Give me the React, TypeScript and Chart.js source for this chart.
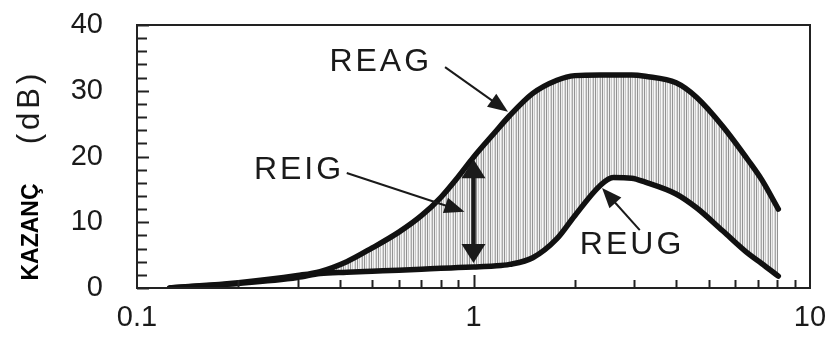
import React, { useEffect, useRef } from 'react';
import { Chart, registerables } from 'chart.js';

Chart.register(...registerables);

// Frequency (log axis) shared by both curves
const freq = [0.125, 0.2, 0.3, 0.35, 0.42, 0.5, 0.6, 0.7, 0.8, 0.9, 1, 1.15, 1.28, 1.5, 1.77, 2.0, 2.38, 2.6, 2.95, 3.24, 4.0, 4.6, 5.5, 6.6, 7.2, 8.05];
// REAG (upper curve), dB
const reag = [0, 0.8, 1.9, 2.5, 4.0, 6.1, 8.5, 11.0, 13.8, 16.9, 19.9, 23.5, 26.2, 29.6, 31.6, 32.3, 32.4, 32.4, 32.4, 32.2, 31.2, 29.0, 24.6, 19.2, 16.4, 12.0];
// REUG (lower curve), dB
const reug = [0, 0.7, 1.6, 2.2, 2.4, 2.55, 2.7, 2.85, 3.0, 3.1, 3.2, 3.35, 3.6, 4.6, 7.5, 11.0, 15.6, 16.8, 16.7, 16.1, 14.3, 12.2, 8.7, 5.1, 3.7, 1.8];

const xLabelValues = [0.1, 1, 10];
const xMinorTicks = [0.2, 0.3, 0.4, 0.5, 0.6, 0.7, 0.8, 0.9, 1, 2, 3, 4, 5, 6, 7, 8, 9];
const yTickStep = 2;
const yLabelStep = 10;

// Annotations (data space)
const textLabels = [
  { text: 'REAG', x: 0.53, y: 34.3 },
  { text: 'REIG', x: 0.303, y: 17.9 },
  { text: 'REUG', x: 2.96, y: 6.5 },
];
const arrows = [
  { x0: 0.823, y0: 33.6, x1: 1.266, y1: 26.8 },
  { x0: 0.42, y0: 17.5, x1: 0.94, y1: 11.6 },
  { x0: 3.12, y0: 8.8, x1: 2.41, y1: 15.2 },
];
const gapAt = 1; // double arrow frequency

const FONT = '"Liberation Sans", Arial, Helvetica, sans-serif';
const INK = '#1a1a1a';
const AREA = { left: 137, top: 25, right: 810, bottom: 288 };

function makeHatch(): CanvasPattern | string {
  const c = document.createElement('canvas');
  const cols = ['#929292', '#ededed', '#c8c8c8', '#f7f7f7', '#d6d6d6', '#a9a9a9', '#f1f1f1'];
  c.width = cols.length;
  c.height = 4;
  const g = c.getContext('2d');
  if (!g) return '#cccccc';
  cols.forEach((col, i) => {
    g.fillStyle = col;
    g.fillRect(i, 0, 1, 4);
  });
  return g.createPattern(c, 'repeat') || '#cccccc';
}

function drawArrowHead(ctx: CanvasRenderingContext2D, x0: number, y0: number, x1: number, y1: number, len: number, half: number) {
  const a = Math.atan2(y1 - y0, x1 - x0);
  const bx = x1 - len * Math.cos(a);
  const by = y1 - len * Math.sin(a);
  ctx.beginPath();
  ctx.moveTo(x1, y1);
  ctx.lineTo(bx + half * Math.sin(a), by - half * Math.cos(a));
  ctx.lineTo(bx - half * Math.sin(a), by + half * Math.cos(a));
  ctx.closePath();
  ctx.fill();
}

const framePlugin = {
  id: 'frameAndTicks',
  afterDraw(chart: any) {
    const { ctx, chartArea: a, scales } = chart;
    const xs = scales.x;
    const ys = scales.y;
    ctx.save();
    ctx.strokeStyle = '#222';
    ctx.lineWidth = 2;
    ctx.strokeRect(a.left, a.top, a.right - a.left, a.bottom - a.top);
    for (let v = 0; v <= 40; v += yTickStep) {
      const py = Math.round(ys.getPixelForValue(v)) + 0.5;
      ctx.beginPath();
      ctx.moveTo(a.left, py);
      ctx.lineTo(a.left + (v % yLabelStep === 0 ? 12 : 10), py);
      ctx.stroke();
    }
    for (const v of xMinorTicks) {
      const px = Math.round(xs.getPixelForValue(v)) + 0.5;
      ctx.beginPath();
      ctx.moveTo(px, a.bottom);
      ctx.lineTo(px, a.bottom - (v === 1 ? 13 : 8));
      ctx.stroke();
    }
    ctx.restore();
  },
};

const annotationPlugin = {
  id: 'annotations',
  afterDatasetsDraw(chart: any) {
    const { ctx, scales } = chart;
    const xs = scales.x;
    const ys = scales.y;
    ctx.save();
    ctx.fillStyle = INK;
    ctx.strokeStyle = INK;
    ctx.font = `32px ${FONT}`;
    (ctx as any).letterSpacing = '3px';
    ctx.textAlign = 'center';
    ctx.textBaseline = 'middle';
    for (const l of textLabels) {
      ctx.fillText(l.text, xs.getPixelForValue(l.x), ys.getPixelForValue(l.y));
    }
    (ctx as any).letterSpacing = '0px';
    ctx.lineWidth = 2;
    for (const ar of arrows) {
      const x0 = xs.getPixelForValue(ar.x0);
      const y0 = ys.getPixelForValue(ar.y0);
      const x1 = xs.getPixelForValue(ar.x1);
      const y1 = ys.getPixelForValue(ar.y1);
      const ang = Math.atan2(y1 - y0, x1 - x0);
      ctx.beginPath();
      ctx.moveTo(x0, y0);
      ctx.lineTo(x1 - 12 * Math.cos(ang), y1 - 12 * Math.sin(ang));
      ctx.stroke();
      drawArrowHead(ctx, x0, y0, x1, y1, 20, 8);
    }
    const i = freq.indexOf(gapAt);
    const px = xs.getPixelForValue(gapAt);
    const yTop = ys.getPixelForValue(reag[i]) + 2;
    const yBot = ys.getPixelForValue(reug[i]) - 4;
    ctx.lineWidth = 4.5;
    ctx.beginPath();
    ctx.moveTo(px, yTop + 15);
    ctx.lineTo(px, yBot - 15);
    ctx.stroke();
    drawArrowHead(ctx, px, yBot, px, yTop, 19, 12);
    drawArrowHead(ctx, px, yTop, px, yBot, 19, 12);

    ctx.translate(30, 107);
    ctx.rotate(-Math.PI / 2);
    ctx.font = `31px ${FONT}`;
    (ctx as any).letterSpacing = '4px';
    ctx.fillText('(dB)', 0, 0);
    ctx.restore();

    ctx.save();
    ctx.fillStyle = '#000';
    ctx.translate(32, 232);
    ctx.rotate(-Math.PI / 2);
    ctx.font = `bold 23px ${FONT}`;
    ctx.textAlign = 'center';
    ctx.textBaseline = 'middle';
    ctx.fillText('KAZANÇ', 0, 0);
    ctx.restore();
  },
};

export default function App() {
  const ref = useRef<HTMLCanvasElement | null>(null);

  useEffect(() => {
    if (!ref.current) return;
    const hatch = makeHatch();
    const pad = { top: AREA.top, right: 830 - AREA.right, left: 0, bottom: 0 };
    const chart = new Chart(ref.current, {
      type: 'line',
      data: {
        datasets: [
          {
            label: 'REAG',
            data: freq.map((f, k) => ({ x: f, y: reag[k] })),
            borderColor: '#111',
            borderWidth: 5.5,
            borderCapStyle: 'round',
            borderJoinStyle: 'round',
            pointRadius: 0,
            cubicInterpolationMode: 'monotone',
            fill: { target: 1 },
            backgroundColor: hatch as any,
          },
          {
            label: 'REUG',
            data: freq.map((f, k) => ({ x: f, y: reug[k] })),
            borderColor: '#111',
            borderWidth: 5.5,
            borderCapStyle: 'round',
            borderJoinStyle: 'round',
            pointRadius: 0,
            cubicInterpolationMode: 'monotone',
            fill: false,
          },
        ],
      },
      options: {
        animation: false,
        responsive: false,
        devicePixelRatio: 1,
        layout: { padding: { ...pad } },
        plugins: {
          legend: { display: false },
          tooltip: { enabled: false },
          filler: { drawTime: 'beforeDatasetsDraw' },
        },
        scales: {
          x: {
            type: 'logarithmic',
            min: 0.1,
            max: 10,
            grid: { display: false, drawTicks: false },
            border: { display: false },
            afterFit: (s: any) => {
              s.height = 342 - AREA.bottom;
              s.paddingLeft = 0;
              s.paddingRight = 0;
            },
            afterBuildTicks: (s: any) => {
              s.ticks = xLabelValues.map((v) => ({ value: v }));
            },
            ticks: {
              autoSkip: false,
              maxRotation: 0,
              padding: 13,
              color: INK,
              font: { family: FONT, size: 29 },
              callback: (v: any) => String(v),
            },
          },
          y: {
            min: 0,
            max: 40,
            grid: { display: false, drawTicks: false },
            border: { display: false },
            afterFit: (s: any) => {
              s.width = AREA.left;
              s.paddingTop = 0;
              s.paddingBottom = 0;
            },
            ticks: {
              stepSize: yTickStep,
              autoSkip: false,
              padding: 34,
              color: INK,
              font: { family: FONT, size: 29 },
              callback: (v: any) => (Number(v) % yLabelStep === 0 ? String(v) : ''),
            },
          },
        },
      },
      plugins: [framePlugin, annotationPlugin],
    } as any);
    for (let k = 0; k < 3; k++) {
      const a = chart.chartArea;
      const dTop = a.top - AREA.top;
      const dRight = AREA.right - a.right;
      if (Math.abs(dTop) < 0.5 && Math.abs(dRight) < 0.5) break;
      pad.top = Math.max(0, pad.top - dTop);
      pad.right = Math.max(0, pad.right - dRight);
      (chart.options as any).layout.padding = { ...pad };
      chart.update();
    }
    return () => chart.destroy();
  }, []);

  return (
    <div style={{ position: 'fixed', left: 0, top: 0, width: 830, height: 342, background: '#fff' }}>
      <canvas ref={ref} width={830} height={342} />
    </div>
  );
}
